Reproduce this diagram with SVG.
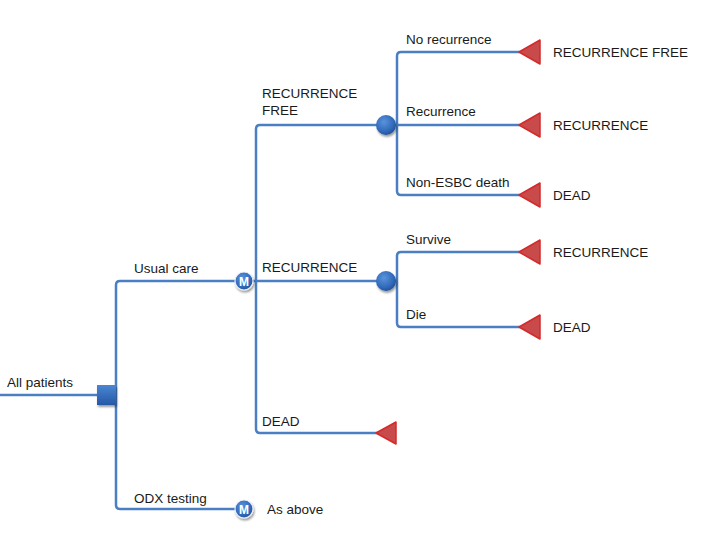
<svg xmlns="http://www.w3.org/2000/svg" width="712" height="543" viewBox="0 0 712 543">
<defs>
<radialGradient id="gBall" cx="0.4" cy="0.35" r="0.7">
<stop offset="0" stop-color="#5a93dc"/>
<stop offset="0.7" stop-color="#2f68b8"/>
<stop offset="1" stop-color="#1f4f95"/>
</radialGradient>
<linearGradient id="gSq" x1="0" y1="0" x2="0" y2="1">
<stop offset="0" stop-color="#4b86d2"/>
<stop offset="1" stop-color="#2458a6"/>
</linearGradient>
<filter id="sh" x="-50%" y="-50%" width="200%" height="200%">
<feGaussianBlur in="SourceAlpha" stdDeviation="1.2"/>
<feOffset dx="0.5" dy="1.5" result="b"/>
<feComponentTransfer><feFuncA type="linear" slope="0.4"/></feComponentTransfer>
<feMerge><feMergeNode/><feMergeNode in="SourceGraphic"/></feMerge>
</filter>
</defs>
<style>
.ln{fill:none;stroke:#4a7fc4;stroke-width:2.5;stroke-linejoin:round}
.t{font-family:"Liberation Sans",Arial,sans-serif;font-size:13.5px;fill:#1a1a1a}
.tri{fill:#c94a4a;stroke:#d42a2a;stroke-width:1.5;stroke-linejoin:round}
.ch{fill:url(#gBall);filter:url(#sh)}
.mk{fill:url(#gBall);stroke:#e8eef8;stroke-width:1.2;filter:url(#sh)}
.mt{font-family:"Liberation Sans",Arial,sans-serif;font-size:12px;font-weight:bold;fill:#ffffff;text-anchor:middle}
</style>
<rect width="712" height="543" fill="#ffffff"/>
<g id="connectors">
<path class="ln" d="M0 395 H100"/>
<path class="ln" d="M244 281 H120 Q116 281 116 285 V505 Q116 509 120 509 H244"/>
<path class="ln" d="M386 125 H260 Q256 125 256 129 V429 Q256 433 260 433 H380"/>
<path class="ln" d="M244 281 H386"/>
<path class="ln" d="M520 52 H401 Q397 52 397 56 V191 Q397 195 401 195 H520"/>
<path class="ln" d="M386 125 H520"/>
<path class="ln" d="M520 252 H401 Q397 252 397 256 V323 Q397 327 401 327 H520"/>
<path class="ln" d="M386 281 H397"/>
</g>
<g id="n-all"><text class="t" x="7" y="387">All patients</text></g>
<g id="n-decision"><rect x="97" y="385" width="19" height="20" fill="url(#gSq)" filter="url(#sh)"/></g>
<g id="e-usual"><text class="t" x="134" y="273">Usual care</text></g>
<g id="e-odx"><text class="t" x="134" y="503">ODX testing</text></g>
<g id="n-m1"><circle class="mk" cx="244" cy="281" r="9"/><text class="mt" x="244" y="285.5">M</text></g>
<g id="n-m2"><circle class="mk" cx="244" cy="509" r="9"/><text class="mt" x="244" y="513.5">M</text><text class="t" x="267" y="514">As above</text></g>
<g id="e-rf"><text class="t" x="262" y="98">RECURRENCE</text><text class="t" x="262" y="115">FREE</text></g>
<g id="e-rec"><text class="t" x="262" y="272">RECURRENCE</text></g>
<g id="e-dead"><text class="t" x="262" y="426">DEAD</text></g>
<g id="n-c1"><circle class="ch" cx="386" cy="125" r="10"/></g>
<g id="n-c2"><circle class="ch" cx="386" cy="281" r="10"/></g>
<g id="n-t0"><polygon class="tri" points="376,433 396,422 396,444"/></g>
<g id="e-labels">
<text class="t" x="406" y="44">No recurrence</text>
<text class="t" x="406" y="116">Recurrence</text>
<text class="t" x="406" y="187">Non-ESBC death</text>
<text class="t" x="406" y="244">Survive</text>
<text class="t" x="406" y="319">Die</text>
</g>
<g id="n-t1"><polygon class="tri" points="519,52 540,40 540,64"/><text class="t" x="553" y="57">RECURRENCE FREE</text></g>
<g id="n-t2"><polygon class="tri" points="519,125 540,113 540,137"/><text class="t" x="553" y="130">RECURRENCE</text></g>
<g id="n-t3"><polygon class="tri" points="519,195 540,183 540,207"/><text class="t" x="553" y="200">DEAD</text></g>
<g id="n-t4"><polygon class="tri" points="519,252 540,240 540,264"/><text class="t" x="553" y="257">RECURRENCE</text></g>
<g id="n-t5"><polygon class="tri" points="519,327 540,315 540,339"/><text class="t" x="553" y="332">DEAD</text></g>
</svg>
